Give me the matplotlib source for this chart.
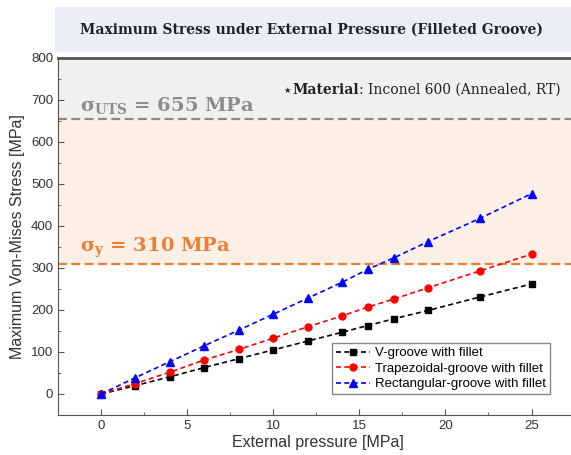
import numpy as np
import matplotlib
matplotlib.use('Agg')
import matplotlib.pyplot as plt
from matplotlib.patches import Rectangle
from matplotlib.ticker import MultipleLocator

# data
pressure = [0, 2, 4, 6, 8, 10, 12, 14, 15.5, 17, 19, 22, 25]
v_groove = [0, 20, 41, 63, 84, 105, 126, 147, 163, 179, 199, 231, 262]
trap_groove = [0, 25, 52, 81, 106, 133, 160, 186, 207, 226, 253, 293, 333]
rect_groove = [0, 39, 77, 115, 152, 190, 228, 266, 297, 324, 363, 418, 477]
series_names = ['V-groove with fillet', 'Trapezoidal-groove with fillet',
                'Rectangular-groove with fillet']
sigma_uts = 655
sigma_y = 310

plt.rcParams['font.family'] = ['Liberation Sans', 'DejaVu Sans']
plt.rcParams['mathtext.fontset'] = 'dejavuserif'
serif = ['DejaVu Serif', 'DejaVu Sans']

fig = plt.figure(figsize=(5.71, 4.55), dpi=100)

# title band
fig.patches.append(Rectangle((55/571, 1-52/455), (571-55)/571, 45/455,
                             transform=fig.transFigure, fc='#e9eef8', ec='none', zorder=0))
fig.text(312/571, 1-30/455, 'Maximum Stress under External Pressure (Filleted Groove)',
         ha='center', va='center', fontsize=10, fontweight='bold', family=serif, color='#222222')

ax = fig.add_axes([58/571, 1-415/455, 520/571, 357/455])
ax.set_xlim(-2.5, 27.7)
ax.set_ylim(-50, 800)

ax.axhspan(sigma_uts, 800, color='#f0f0f0', zorder=0, lw=0)
ax.axhspan(sigma_y, sigma_uts, color='#fcefe6', zorder=0, lw=0)
ax.axhline(sigma_uts, color='#8a8a8a', ls='--', lw=1.6, dashes=(4, 2), zorder=1)
ax.axhline(sigma_y, color='#ed7d31', ls='--', lw=1.6, dashes=(4, 2), zorder=1)

ax.text(-1.2, sigma_uts + 8, r'$\mathbf{\sigma_{UTS}}$ = 655 MPa', fontsize=14,
        fontweight='bold', color='#8c8c8c', family=serif, va='bottom')
ax.text(-1.2, sigma_y + 8, r'$\mathbf{\sigma_{y}}$ = 310 MPa', fontsize=14,
        fontweight='bold', color='#ed7d31', family=serif, va='bottom')

ax.plot(pressure, v_groove, 'k--s', ms=4.5, lw=1.2, dashes=(3, 2), label=series_names[0])
ax.plot(pressure, trap_groove, '--o', color='#ff0000', ms=5, lw=1.2, dashes=(3, 2), label=series_names[1])
ax.plot(pressure, rect_groove, '--^', color='#0000ff', ms=5.5, lw=1.2, dashes=(3, 2), label=series_names[2])

ax.xaxis.set_major_locator(MultipleLocator(5))
ax.xaxis.set_minor_locator(MultipleLocator(2.5))
ax.yaxis.set_major_locator(MultipleLocator(100))
ax.yaxis.set_minor_locator(MultipleLocator(50))
ax.tick_params(which='both', direction='in', colors='#555555', labelcolor='#333333', labelsize=9.5)
ax.tick_params(which='major', length=4)
ax.tick_params(which='minor', length=2.5)
for s in ax.spines.values():
    s.set_color('#555555')
ax.spines['top'].set_linewidth(2)
ax.spines['right'].set_visible(False)

ax.set_xlabel('External pressure [MPa]', fontsize=11.5, color='#333333', labelpad=2)
ax.set_ylabel('Maximum Von-Mises Stress [MPa]', fontsize=11.5, color='#333333', labelpad=4)

leg = ax.legend(loc='lower right', bbox_to_anchor=(557/571, 1-401/455), bbox_transform=fig.transFigure,
                fontsize=9.5, fancybox=False, edgecolor='#888888', framealpha=1,
                handlelength=2.6, handletextpad=0.4, borderpad=0.3, labelspacing=0.25)

# material note: star + bold word + regular text
fig.canvas.draw()
r = fig.canvas.get_renderer()
t1 = fig.text(561/571, 1-90/455, ': Inconel 600 (Annealed, RT)', ha='right', va='center',
              fontsize=10, family=serif, color='#222222')
bb = t1.get_window_extent(r)
t2 = fig.text(bb.x0 / fig.bbox.width, 1-90/455, 'Material', ha='right', va='center',
              fontsize=10, fontweight='bold', family=serif, color='#222222')
bb2 = t2.get_window_extent(r)
fig.text(bb2.x0 / fig.bbox.width - 0.004, 1-90/455, '\u2605', ha='right', va='center',
         fontsize=6, family=['DejaVu Sans'], color='#222222')

fig.savefig('out.png', dpi=100)
